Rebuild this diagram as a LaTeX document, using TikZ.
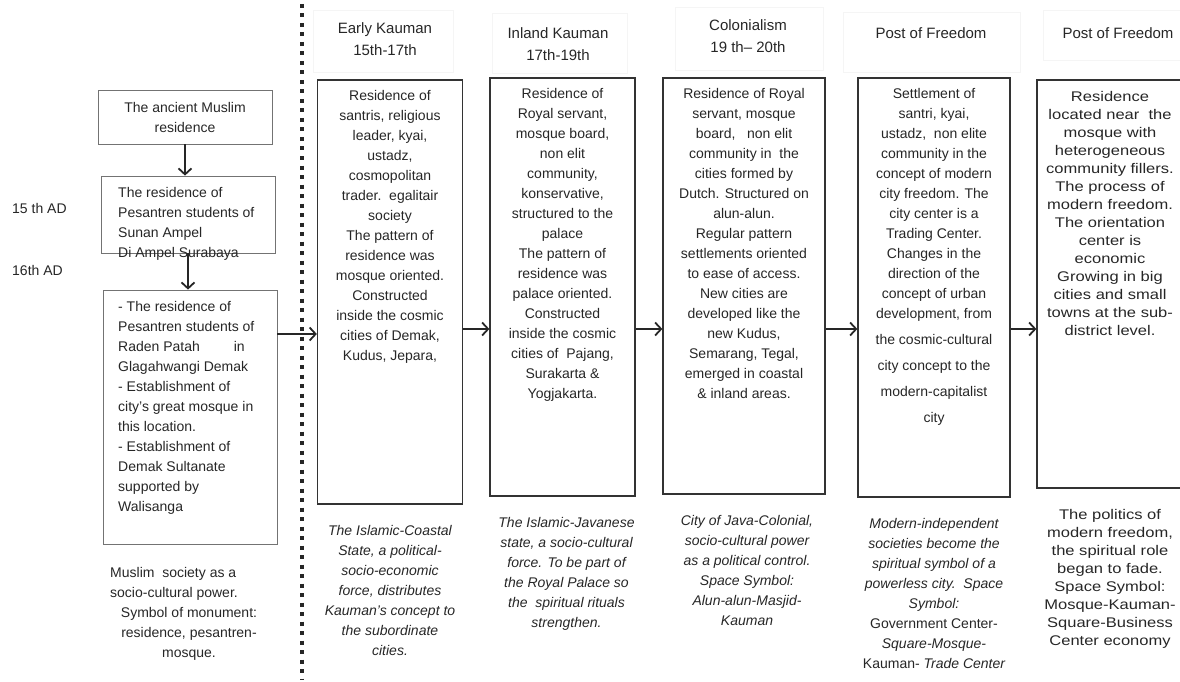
\documentclass[tikz,border=0pt]{standalone}
\usepackage{fontspec}
\setmainfont{Liberation Sans}
\newfontfamily\widefont{Liberation Sans}[FakeStretch=1.18]
\usetikzlibrary{arrows.meta}

\begin{document}
\begin{tikzpicture}[x=1pt,y=-1pt,
    every node/.style={text=black!85, font=\fontsize{14}{20}\selectfont},
    box/.style={draw=black!80, line width=1.3pt},
    oldbox/.style={draw=black!55, line width=0.8pt},
    headbox/.style={draw=black!4, line width=0.6pt},
    head/.style={align=center, inner sep=0pt, font=\fontsize{15}{22}\selectfont},
    txt/.style={align=center, inner sep=0pt, anchor=north},
    note/.style={align=center, inner sep=0pt, anchor=north, font=\fontsize{14}{20}\selectfont\itshape},
    wide/.style={font=\widefont\fontsize{14}{18}\selectfont},
    arr/.style={draw=black!85, line width=1.8pt, -{Straight Barb[length=6pt,width=13pt,line width=1.8pt]}}]
\useasboundingbox (0,0) rectangle (1180,682);

% period headers
\draw[headbox] (313,10) rectangle (453,72);
\draw[headbox] (492,13) rectangle (627,73);
\draw[headbox] (675,7) rectangle (823,70);
\draw[headbox] (843,12) rectangle (1020,72);
\draw[headbox] (1043,10) rectangle (1185,60);
\node[head] (t1) at (385,39) {Early Kauman\\15th-17th};
\node[head] (t2) at (558,44) {Inland Kauman\\17th-19th};
\node[head] (t3) at (748,36) {Colonialism\\19 th– 20th};
\node[head] (t4) at (931,33) {Post of Freedom};
\node[head] (t5) at (1118,33) {Post of Freedom};

% dotted divider
\draw[line width=4pt, dash pattern=on 4pt off 5.5pt, black!85] (302,4) -- (302,680);

% left column
\node[oldbox, minimum width=174pt, minimum height=54pt, align=center] (anc) at (185,117) {The ancient Muslim\\residence};
\node[oldbox, minimum width=174pt, minimum height=77pt] (pes) at (188,214.5) {};
\node[anchor=north west, align=left, inner sep=0pt] (pest) at (118,187) {The residence of\\Pesantren students of\\Sunan Ampel\\Di Ampel Surabaya};
\node[oldbox, minimum width=174pt, minimum height=254pt] (dem) at (190,417) {};
\node[anchor=north west, align=left, inner sep=0pt] (demt) at (118,301) {- The residence of\\Pesantren students of\\Raden Patah\hspace{30pt} in\\Glagahwangi Demak\\- Establishment of\\city's great mosque in\\this location.\\- Establishment of\\Demak Sultanate\\supported by\\Walisanga};
\node[anchor=west, inner sep=0pt] (c15) at (12,208) {15 th AD};
\node[anchor=west, inner sep=0pt] (c16) at (12,270) {16th AD};
\node[anchor=north west, align=left, inner sep=0pt] (ms1) at (110,567) {Muslim\ \ society as a\\socio-cultural power.};
\node[anchor=north, align=center, inner sep=0pt] (ms2) at (189,607) {Symbol of monument:\\residence, pesantren-\\mosque.};

\draw[arr] (anc.south) -- (anc.south |- pes.north);
\draw[arr] (pes.south) -- (pes.south |- dem.north);

% period boxes
\node[box, minimum width=145pt, minimum height=424pt] (b1) at (390,292) {};
\node[box, minimum width=145pt, minimum height=418pt] (b2) at (562.5,287) {};
\node[box, minimum width=162pt, minimum height=416pt] (b3) at (744,286) {};
\node[box, minimum width=152pt, minimum height=419pt] (b4) at (934,287.5) {};
\node[box, minimum width=153pt, minimum height=408pt] (b5) at (1113.5,284) {};

\node[txt] (r1) at ([yshift=-11pt]b1.north) {Residence of\\santris, religious\\leader, kyai,\\ustadz,\\cosmopolitan\\trader.\ \ egalitair\\society\\The pattern of\\residence was\\mosque oriented.\\Constructed\\inside the cosmic\\cities of Demak,\\Kudus, Jepara,};
\node[txt] (r2) at ([yshift=-11pt]b2.north) {Residence of\\Royal servant,\\mosque board,\\non elit\\community,\\konservative,\\structured to the\\palace\\The pattern of\\residence was\\palace oriented.\\Constructed\\inside the cosmic\\cities of\ \ Pajang,\\Surakarta \&\\Yogjakarta.};
\node[txt] (r3) at ([yshift=-11pt]b3.north) {Residence of Royal\\servant, mosque\\board,\ \ \ non elit\\community in\ \ the\\cities formed by\\Dutch. Structured on\\alun-alun.\\Regular pattern\\settlements oriented\\to ease of access.\\New cities are\\developed like the\\new Kudus,\\Semarang, Tegal,\\emerged in coastal\\\& inland areas.};
\node[txt] (r4) at ([yshift=-11pt]b4.north) {Settlement of\\santri, kyai,\\ustadz,\ \ non elite\\community in the\\concept of modern\\city freedom. The\\city center is a\\Trading Center.\\Changes in the\\direction of the\\concept of urban\\development, from\\[6pt]the cosmic-cultural\\[6pt]city concept to the\\[6pt]modern-capitalist\\[6pt]city};
\node[txt, wide] (r5) at (1110,91) {Residence\\located near\ \ the\\mosque with\\heterogeneous\\community fillers.\\The process of\\modern freedom.\\The orientation\\center is\\economic\\Growing in big\\cities and small\\towns at the sub-\\district level.};

\node[note] (n1) at ([yshift=-20pt]b1.south) {The Islamic-Coastal\\State, a political-\\socio-economic\\force, distributes\\Kauman's concept to\\the subordinate\\cities.};
\node[note] (n2) at ([xshift=4pt,yshift=-20pt]b2.south) {The Islamic-Javanese\\state, a socio-cultural\\force. To be part of\\the Royal Palace so\\the\ \ spiritual rituals\\strengthen.};
\node[note] (n3) at ([xshift=3pt,yshift=-20pt]b3.south) {City of Java-Colonial,\\socio-cultural power\\as a political control.\\Space Symbol:\\Alun-alun-Masjid-\\Kauman};
\node[note] (n4) at ([yshift=-20pt]b4.south) {Modern-independent\\societies become the\\spiritual symbol of a\\powerless city.\ \ Space\\Symbol:\\\textup{Government Center-}\\Square-Mosque-\\\textup{Kauman-} Trade Center};
\node[txt, wide] (n5) at ([xshift=-3.5pt,yshift=-20pt]b5.south) {The politics of\\modern freedom,\\the spiritual role\\began to fade.\\Space Symbol:\\Mosque-Kauman-\\Square-Business\\Center economy};

% flow between periods
\coordinate (lvl0) at (0,334);
\coordinate (lvl) at (0,329);
\draw[arr] (dem.east |- lvl0) -- (b1.west |- lvl0);
\foreach \a/\b in {b1/b2,b2/b3,b3/b4,b4/b5}{
    \draw[arr] (\a.east |- lvl) -- (\b.west |- lvl);
}

\end{tikzpicture}
\end{document}
